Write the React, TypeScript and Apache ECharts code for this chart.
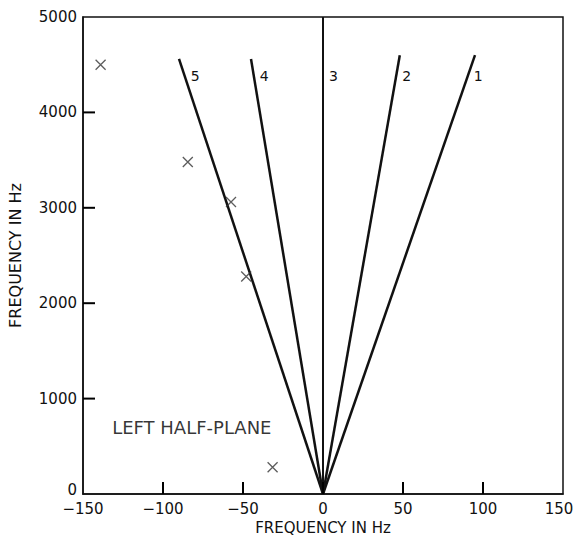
import React, { useEffect, useRef } from "react";
import * as echarts from "echarts";

// Radial lines from origin: [label, xEnd (Hz), yEnd (Hz)]
const lineLabels = ["1", "2", "3", "4", "5"];
const lineEndX = [95, 48, 0, -45, -90];
const lineEndY = [4600, 4600, 5000, 4560, 4560];
const labelY = 4380;

// Measured points (crosses)
const crossX = [-139, -84.5, -57.5, -48, -31.5];
const crossY = [4500, 3480, 3060, 2280, 280];

const xTicks = { min: -150, max: 150, interval: 50 };
const yTicks = { min: 0, max: 5000, interval: 1000 };
const xTickValues = [-100, -50, 0, 50, 100];
const yTickValues = [1000, 2000, 3000, 4000];

const annotation = { text: "LEFT HALF-PLANE", x: -82, y: 700 };

const FONT = "DejaVu Sans";
const INK = "#111";
const TICK_LEN = 12;

export default function App() {
  const ref = useRef<HTMLDivElement>(null);
  useEffect(() => {
    if (!ref.current) return;
    const chart = echarts.init(ref.current, undefined, { renderer: "svg" });
    const lineSeries = lineLabels.map((lab, i) => {
      const ex = lineEndX[i];
      const ey = lineEndY[i];
      const lx = ex * (labelY / ey);
      return {
        type: "line",
        name: "line" + lab,
        data: [
          [0, 0],
          [ex, ey],
        ],
        symbol: "none",
        lineStyle: { color: INK, width: i === 2 ? 2 : 2.5 },
        silent: true,
        markPoint: {
          symbol: "circle",
          symbolSize: 0,
          data: [{ coord: [lx, labelY], value: lab }],
          label: {
            show: true,
            formatter: lab,
            position: "right",
            distance: 6,
            color: INK,
            fontFamily: FONT,
            fontSize: 14,
          },
        },
      };
    });
    const tickLine = (x1: number, y1: number, x2: number, y2: number) => ({
      type: "line",
      shape: { x1, y1, x2, y2 },
      style: { stroke: "#000", lineWidth: 2 },
    });
    chart.setOption({
      animation: false,
      backgroundColor: "#fff",
      grid: {
        left: 83,
        right: 11,
        top: 17,
        bottom: 41,
        show: true,
        borderColor: INK,
        borderWidth: 1.5,
        backgroundColor: "transparent",
        outerBoundsMode: "none",
        containLabel: false,
      },
      xAxis: {
        type: "value",
        min: xTicks.min,
        max: xTicks.max,
        interval: xTicks.interval,
        name: "FREQUENCY IN Hz",
        nameLocation: "middle",
        nameGap: 26,
        nameTextStyle: { color: INK, fontFamily: FONT, fontSize: 15, verticalAlign: "middle" },
        axisLine: { show: true, onZero: false, lineStyle: { color: INK, width: 1.5 } },
        axisTick: { show: false },
        axisLabel: {
          color: INK,
          fontFamily: FONT,
          fontSize: 15,
          margin: 7,
          formatter: (v: number) => (v < 0 ? "\u2212" + Math.abs(v) : v === xTicks.max ? "{r|" + v + "}" : String(v)),
          rich: { r: { fontFamily: FONT, fontSize: 15, color: INK, padding: [0, 8, 0, 0] } },
        },
        splitLine: { show: false },
      },
      yAxis: {
        type: "value",
        min: yTicks.min,
        max: yTicks.max,
        interval: yTicks.interval,
        name: "FREQUENCY IN Hz",
        nameLocation: "middle",
        nameGap: 60,
        nameRotate: 90,
        nameTextStyle: { color: INK, fontFamily: FONT, fontSize: 16 },
        axisLine: { show: true, onZero: false, lineStyle: { color: INK, width: 1.5 } },
        axisTick: { show: false },
        axisLabel: {
          color: INK,
          fontFamily: FONT,
          fontSize: 15,
          margin: 6,
          formatter: (v: number) => (v === yTicks.min ? "{z|" + v + "}" : String(v)),
          rich: { z: { fontFamily: FONT, fontSize: 15, color: INK, padding: [0, 0, 8, 0] } },
        },
        splitLine: { show: false },
      },
      series: [
        {
          type: "custom",
          name: "xticks",
          silent: true,
          z: 10,
          data: xTickValues.map((v) => [v, yTicks.min]),
          renderItem: (_p: any, api: any) => {
            const pt = api.coord([api.value(0), api.value(1)]);
            return tickLine(pt[0], pt[1], pt[0], pt[1] - TICK_LEN);
          },
        },
        {
          type: "custom",
          name: "yticks",
          silent: true,
          z: 10,
          data: yTickValues.map((v) => [xTicks.min, v]),
          renderItem: (_p: any, api: any) => {
            const pt = api.coord([api.value(0), api.value(1)]);
            return tickLine(pt[0], pt[1], pt[0] + TICK_LEN, pt[1]);
          },
        },
        ...lineSeries,
        {
          type: "scatter",
          name: "crosses",
          data: crossX.map((x, i) => [x, crossY[i]]),
          symbol: "path://M0,0L10,10M10,0L0,10",
          symbolSize: 10,
          itemStyle: { color: "transparent", borderColor: "#333", borderWidth: 1.3 },
          silent: true,
          z: 5,
        },
        {
          type: "scatter",
          name: "annotation",
          data: [[annotation.x, annotation.y]],
          symbolSize: 0,
          silent: true,
          label: {
            show: true,
            position: "inside",
            formatter: annotation.text,
            color: "#000",
            fontFamily: FONT,
            fontSize: 18,
          },
        },
      ],
    });
    return () => chart.dispose();
  }, []);
  return <div ref={ref} style={{ width: 574, height: 535, position: "absolute", left: 0, top: 0 }} />;
}
